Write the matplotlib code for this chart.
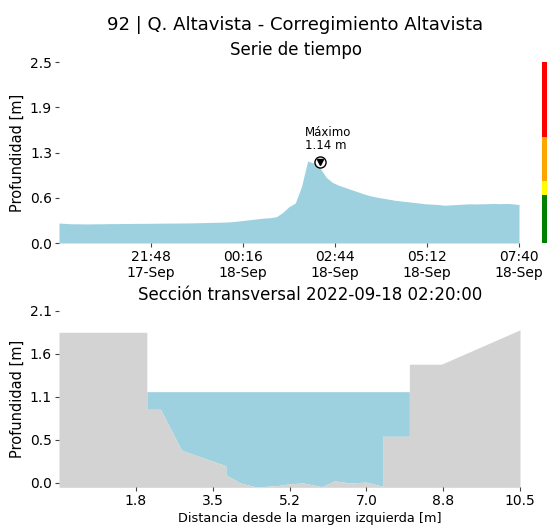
import datetime as dt

import matplotlib
matplotlib.use("Agg")
import matplotlib.pyplot as plt
import matplotlib.dates as mdates
import numpy as np

# --- time series (10 min steps from 17-Sep 19:20) ---
start_time = dt.datetime(2022, 9, 17, 19, 20)
end_time = dt.datetime(2022, 9, 18, 7, 40)
depth_series = [
    0.280, 0.275, 0.270, 0.270, 0.268, 0.268, 0.270, 0.270, 0.272, 0.272,
    0.273, 0.274, 0.275, 0.276, 0.276, 0.277, 0.278, 0.279, 0.280, 0.280,
    0.281, 0.282, 0.284, 0.286, 0.288, 0.290, 0.292, 0.295, 0.300, 0.310,
    0.320, 0.330, 0.340, 0.350, 0.355, 0.370, 0.430, 0.510, 0.560, 0.790,
    1.150, 1.120, 1.050, 0.920, 0.850, 0.810, 0.780, 0.750, 0.720, 0.690,
    0.665, 0.645, 0.630, 0.615, 0.600, 0.590, 0.580, 0.570, 0.560, 0.550,
    0.545, 0.540, 0.530, 0.535, 0.540, 0.545, 0.550, 0.548, 0.550, 0.552,
    0.555, 0.552, 0.555, 0.550, 0.540,
]
max_time = dt.datetime(2022, 9, 18, 2, 20)
max_depth = 1.14
y_top_max = 2.54

# alert levels for the side bar
alert_levels = [0.0, 0.67, 0.87, 1.49, 2.54]
alert_colors = ["#008000", "#ffff00", "#ffa500", "#ff0000"]

# --- cross section ---
bed_x = [0.0, 2.0, 2.0, 2.31, 2.79, 3.80, 3.80, 4.13, 4.50, 5.00, 5.26,
         5.56, 5.98, 6.28, 6.63, 7.00, 7.37, 7.37, 7.98, 7.98, 8.71, 10.5]
bed_y = [1.84, 1.84, 0.90, 0.90, 0.40, 0.21, 0.10, 0.00, -0.05, -0.03, -0.01,
         0.00, -0.045, 0.025, 0.00, 0.01, -0.04, 0.57, 0.57, 1.45, 1.45, 1.87]
water_level = 1.115

WATER = "#9ed1e0"
GROUND = "lightgray"

plt.rcParams.update({
    "font.family": "DejaVu Sans",
    "xtick.labelsize": 10,
    "ytick.labelsize": 10,
})

fig = plt.figure(figsize=(5.47, 5.27), dpi=100)
W, H = 547, 527


def px_axes(x0, y0, x1, y1):
    return fig.add_axes([x0 / W, 1 - y1 / H, (x1 - x0) / W, (y1 - y0) / H])


def clean(ax):
    for s in ax.spines.values():
        s.set_visible(False)
    ax.tick_params(length=3, width=0.8, color="#444444", pad=2)


# time series panel
ax1 = px_axes(59, 62, 519, 243)
times = [start_time + dt.timedelta(minutes=10 * i) for i in range(len(depth_series))]
ax1.fill_between(times, 0, depth_series, color=WATER, lw=0)
ax1.plot([max_time], [max_depth], "o", ms=8, mfc="white", mec="black", mew=1)
ax1.plot([max_time], [max_depth], "v", ms=4.5, color="black")
ax1.annotate("Máximo\n%.2f m" % max_depth, xy=(mdates.date2num(max_time), max_depth),
             xytext=(-11, 7), textcoords="offset points", fontsize=8.5,
             ha="left", va="bottom", linespacing=1.0)
ax1.set_xlim(start_time, end_time)
ax1.set_ylim(0, y_top_max)
span = (end_time - start_time) / 5
ax1.set_xticks([start_time + span * i for i in range(1, 6)])
ax1.xaxis.set_major_formatter(mdates.DateFormatter("%H:%M\n%d-%b"))
yt = np.linspace(0, y_top_max, 5)
ax1.set_yticks(yt)
ax1.set_yticklabels(["%.1f" % v for v in yt])
ax1.set_ylabel("Profundidad [m]", fontsize=10.5)
clean(ax1)

# alert bar
axb = px_axes(542, 62, 547, 243)
for lo, hi, c in zip(alert_levels[:-1], alert_levels[1:], alert_colors):
    axb.axhspan(lo, hi, color=c, lw=0)
axb.set_ylim(0, y_top_max)
axb.axis("off")

# cross section panel
ax2 = px_axes(59, 311, 520, 487.3)
y_bottom = -0.053
bx = np.array(bed_x)
by = np.array(bed_y)
ax2.fill_between(bx, by, np.maximum(by, water_level), color=WATER, lw=0)
ax2.fill_between(bx, y_bottom, by, color=GROUND, lw=0)
ax2.set_xlim(0, 10.5)
ax2.set_ylim(y_bottom, 2.1)
xt = np.linspace(0, 10.5, 7)[1:]
ax2.set_xticks(xt)
ax2.set_xticklabels(["%.1f" % v for v in xt])
yt2 = np.linspace(0, 2.1, 5)
ax2.set_yticks(yt2)
ax2.set_yticklabels(["%.1f" % v for v in yt2])
ax2.set_ylabel("Profundidad [m]", fontsize=10.5)
clean(ax2)

fig.text(295.5 / W, 1 - 30 / H, "92 | Q. Altavista - Corregimiento Altavista",
         fontsize=13, ha="center", va="baseline")
fig.text(296 / W, 1 - 55 / H, "Serie de tiempo", fontsize=12,
         ha="center", va="baseline")
fig.text(310 / W, 1 - 300 / H, "Sección transversal 2022-09-18 02:20:00",
         fontsize=12, ha="center", va="baseline")
fig.text(310 / W, 1 - 522 / H, "Distancia desde la margen izquierda [m]",
         fontsize=9.3, ha="center", va="baseline")

fig.savefig("out.png", dpi=100)
